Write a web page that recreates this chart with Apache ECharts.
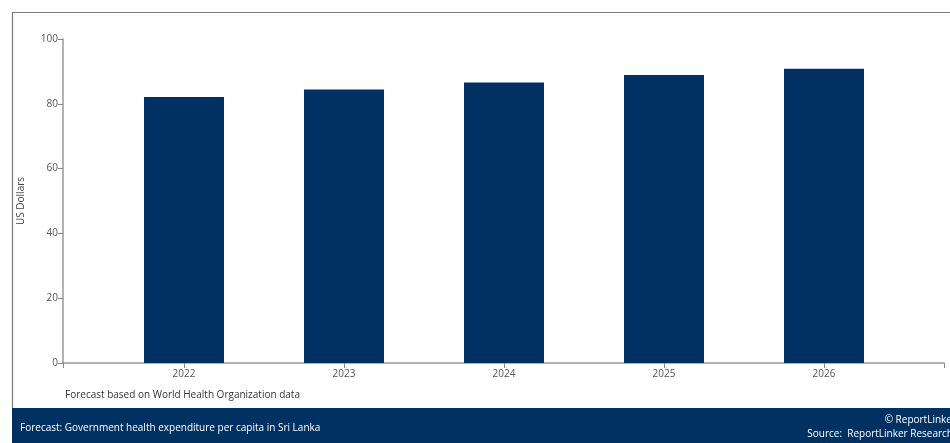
<!DOCTYPE html>
<html>
<head>
<meta charset="utf-8">
<script src="https://cdn.jsdelivr.net/npm/echarts@6/dist/echarts.min.js"></script>
<style>
html,body{margin:0;padding:0;background:#fff;}
#chart{width:950px;height:443px;}
</style>
</head>
<body>
<div id="chart"></div>
<script>
const categories = ['2022', '2023', '2024', '2025', '2026'];
const values = [82.1, 84.4, 86.6, 88.9, 90.8];
const yTicks = { min: 0, max: 100, interval: 20 };
const yName = 'US Dollars';
const noteText = 'Forecast based on World Health Organization data';
const footerTitle = 'Forecast: Government health expenditure per capita in Sri Lanka';
const footerCopy = '\u00A9 ReportLinker';
const footerSource = 'Source:  ReportLinker Research';

const FONT = '"Open Sans", "Noto Sans", sans-serif';
const chart = echarts.init(document.getElementById('chart'), null, { renderer: 'canvas' });

chart.setOption({
  animation: false,
  textStyle: { fontFamily: FONT },
  grid: [
    { left: 63, right: 6, top: 39, bottom: 80 },
    { left: 104, right: 46, top: 39, bottom: 80 }
  ],
  xAxis: [
    {
      gridIndex: 0, type: 'value', min: 0, max: 1, interval: 1,
      axisLine: { show: true, lineStyle: { color: '#999', width: 1.5 } },
      axisTick: { show: true, length: 5, lineStyle: { color: '#888' } },
      axisLabel: { show: false },
      splitLine: { show: false }
    },
    {
      gridIndex: 1, type: 'category', data: categories, boundaryGap: true,
      axisLine: { show: false },
      axisTick: { show: true, alignWithLabel: true, length: 5, lineStyle: { color: '#888' } },
      axisLabel: { color: '#555', fontSize: 10, margin: 6, fontFamily: FONT },
      splitLine: { show: false }
    }
  ],
  yAxis: [
    {
      gridIndex: 0, type: 'value', min: yTicks.min, max: yTicks.max, interval: yTicks.interval,
      name: yName, nameLocation: 'middle', nameGap: 37, nameRotate: 90,
      nameTextStyle: { color: '#444', fontSize: 10, fontFamily: FONT },
      axisLine: { show: true, lineStyle: { color: '#999', width: 1.5 } },
      axisTick: { show: true, length: 5, lineStyle: { color: '#888' } },
      axisLabel: { color: '#555', fontSize: 10, margin: 5, fontFamily: FONT },
      splitLine: { show: false }
    },
    {
      gridIndex: 1, type: 'value', min: yTicks.min, max: yTicks.max, interval: yTicks.interval,
      show: false, splitLine: { show: false }
    }
  ],
  series: [
    {
      type: 'bar',
      xAxisIndex: 1, yAxisIndex: 1,
      data: values,
      barWidth: 80,
      itemStyle: { color: '#003162' }
    }
  ],
  graphic: [
    {
      type: 'polyline', silent: true,
      shape: { points: [[12.5, 408], [12.5, 12.5], [950, 12.5]] },
      style: { stroke: '#7a7a7a', lineWidth: 1.2, fill: null }
    },
    {
      type: 'rect', silent: true,
      shape: { x: 12, y: 408, width: 938, height: 35 },
      style: { fill: '#003162' }
    },
    {
      type: 'text', silent: true, left: 65, top: 390,
      style: { text: noteText, fill: '#333', font: '10px ' + FONT }
    },
    {
      type: 'text', silent: true, left: 20, top: 423,
      style: { text: footerTitle, fill: '#fff', font: '10px ' + FONT }
    },
    {
      type: 'text', silent: true, right: -6, top: 415,
      style: { text: footerCopy, fill: '#fff', font: '10px ' + FONT, textAlign: 'right' }
    },
    {
      type: 'text', silent: true, right: -3, top: 429,
      style: { text: footerSource, fill: '#fff', font: '10px ' + FONT, textAlign: 'right' }
    }
  ]
});
</script>
</body>
</html>
